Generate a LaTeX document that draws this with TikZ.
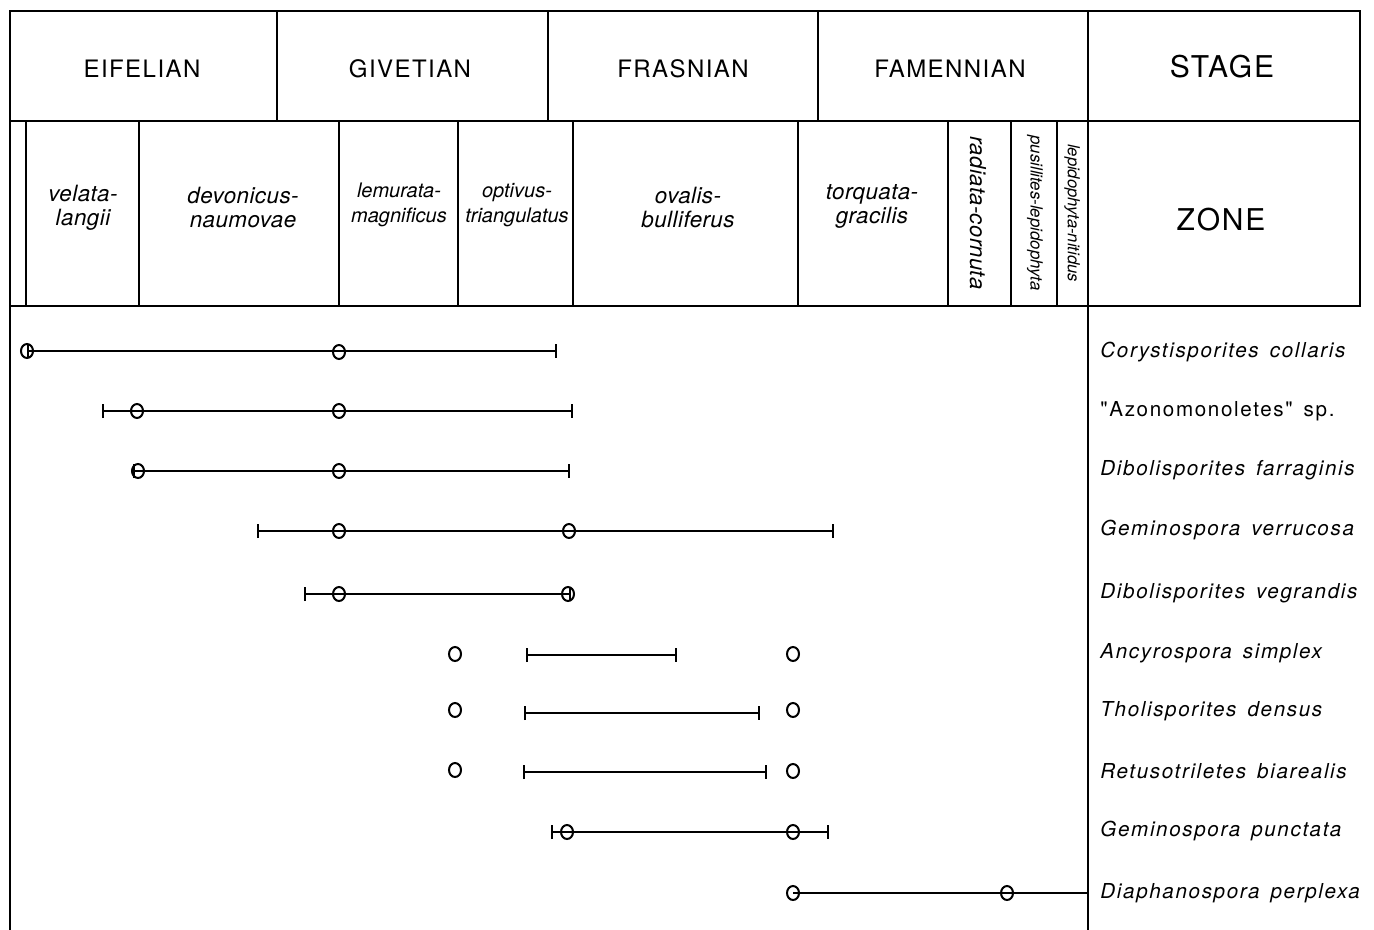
\documentclass[tikz,border=0pt]{standalone}
\usepackage{fontspec}
\setmainfont{TeX Gyre Heros}
\newfontfamily\stagefont[LetterSpace=6]{TeX Gyre Heros}
\newfontfamily\zonefont[LetterSpace=2]{TeX Gyre Heros}
\newfontfamily\taxonfont[LetterSpace=8,WordSpace=1.5]{TeX Gyre Heros}
\usetikzlibrary{arrows.meta}
\begin{document}
\begin{tikzpicture}[x=0.5pt,y=-0.5pt,
  rule/.style={line width=1pt},
  stagelabel/.style={font=\stagefont\fontsize{12}{14}\selectfont},
  headlabel/.style={font=\stagefont\fontsize{15}{17}\selectfont},
  zonelabel/.style={font=\zonefont\fontsize{11.2}{12}\selectfont\itshape, align=center},
  narrowzone/.style={font=\fontsize{10}{12.5}\selectfont\itshape, align=center},
  thinzone/.style={font=\fontsize{8.4}{10}\selectfont\itshape, rotate=-90},
  taxon/.style={font=\taxonfont\fontsize{10.3}{12}\selectfont\itshape, anchor=west, inner sep=0pt},
  spanline/.style={line width=1.3pt, {Bar[width=7pt,line width=1.1pt]}-{Bar[width=7pt,line width=1.1pt]}},
  spore/.style={line width=1pt}]
\useasboundingbox (0,0) rectangle (1374,930);

% Stage row
\draw[rule] (10,11) rectangle (1360,121);
\foreach \x in {277,548,818,1088}
  \draw[rule] (\x,11) -- (\x,121);
\node[stagelabel] (eifelian) at (142,69) {EIFELIAN};
\node[stagelabel] (givetian) at (410,69) {GIVETIAN};
\node[stagelabel] (frasnian) at (683,69) {FRASNIAN};
\node[stagelabel] (famennian) at (950,69) {FAMENNIAN};
\node[headlabel] (stage) at (1222,67) {STAGE};

% Zone row
\draw[rule] (10,121) rectangle (1360,306);
\foreach \x in {26,139,339,458,573,798,948,1011,1057,1088}
  \draw[rule] (\x,121) -- (\x,306);
\node[zonelabel] (velata) at (83,208) {velata-\\langii};
\node[zonelabel] (devonicus) at (243,208) {devonicus-\\naumovae};
\node[narrowzone] (lemurata) at (399,205) {lemurata-\\magnificus};
\node[narrowzone] (optivus) at (517,205) {optivus-\\triangulatus};
\node[zonelabel] (ovalis) at (688,208) {ovalis-\\bulliferus};
\node[zonelabel] (torquata) at (872,206) {torquata-\\gracilis};
\node[thinzone, font=\zonefont\fontsize{11}{13}\selectfont\itshape] (radiata) at (978,213) {radiata-cornuta};
\node[thinzone] (pusillites) at (1035,213) {pusillites-lepidophyta};
\node[thinzone, font=\fontsize{8.3}{10}\selectfont\itshape] (lepidophyta) at (1072,213) {lepidophyta-nitidus};
\node[headlabel] (zone) at (1221,220) {ZONE};

% Range chart frame
\draw[rule] (10,306) -- (10,930);
\draw[line width=0.8pt] (1088,306) -- (1088,930);

% Corystisporites collaris
\draw[spanline] (27,351) -- (557,351);
\draw[spore] (27,351) ellipse (6 and 7);
\draw[spore] (339,352) ellipse (6 and 7);
\node[taxon] (collaris) at (1100,352) {Corystisporites collaris};

% Azonomonoletes sp.
\draw[spanline] (102,411) -- (573,411);
\draw[spore] (137,411) ellipse (6 and 7);
\draw[spore] (339,411) ellipse (6 and 7);
\node[taxon, font=\taxonfont\fontsize{10.3}{12}\selectfont] (azono) at (1100,411) {"Azonomonoletes" sp.};

% Dibolisporites farraginis
\draw[spanline] (133,471) -- (570,471);
\draw[spore] (138,471) ellipse (6 and 7);
\draw[spore] (339,471) ellipse (6 and 7);
\node[taxon] (farraginis) at (1100,470) {Dibolisporites farraginis};

% Geminospora verrucosa
\draw[spanline] (257,531) -- (834,531);
\draw[spore] (339,531) ellipse (6 and 7);
\draw[spore] (569,531) ellipse (6 and 7);
\node[taxon] (verrucosa) at (1100,530) {Geminospora verrucosa};

% Dibolisporites vegrandis
\draw[spanline] (304,594) -- (571,594);
\draw[spore] (339,594) ellipse (6 and 7);
\draw[spore] (568,594) ellipse (6 and 7);
\node[taxon] (vegrandis) at (1100,593) {Dibolisporites vegrandis};

% Ancyrospora simplex
\draw[spanline] (526,655) -- (677,655);
\draw[spore] (455,654) ellipse (6 and 7);
\draw[spore] (793,654) ellipse (6 and 7);
\node[taxon] (simplex) at (1100,653) {Ancyrospora simplex};

% Tholisporites densus
\draw[spanline] (524,713) -- (760,713);
\draw[spore] (455,710) ellipse (6 and 7);
\draw[spore] (793,710) ellipse (6 and 7);
\node[taxon] (densus) at (1100,711) {Tholisporites densus};

% Retusotriletes biarealis
\draw[spanline] (523,772) -- (767,772);
\draw[spore] (455,770) ellipse (6 and 7);
\draw[spore] (793,771) ellipse (6 and 7);
\node[taxon] (biarealis) at (1100,771) {Retusotriletes biarealis};

% Geminospora punctata
\draw[spanline] (551,832) -- (829,832);
\draw[spore] (567,832) ellipse (6 and 7);
\draw[spore] (793,832) ellipse (6 and 7);
\node[taxon] (punctata) at (1100,831) {Geminospora punctata};

% Diaphanospora perplexa
\draw[line width=1.3pt] (793,893) -- (1088,893);
\draw[spore] (793,893) ellipse (6 and 7);
\draw[spore] (1007,893) ellipse (6 and 7);
\node[taxon] (perplexa) at (1100,893) {Diaphanospora perplexa};
\end{tikzpicture}
\end{document}
